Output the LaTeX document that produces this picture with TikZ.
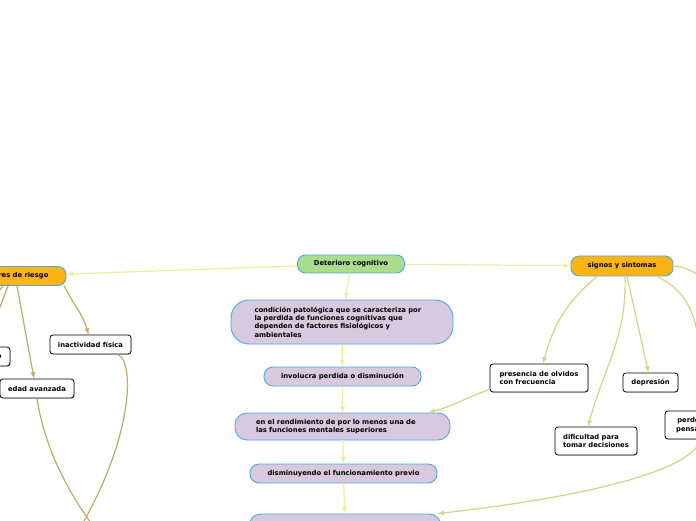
\documentclass[tikz,border=0pt]{standalone}
\usepackage{fontspec}
\setmainfont{DejaVu Sans}
\usetikzlibrary{arrows,shadows}

\definecolor{verde}{HTML}{A9DC8E}
\definecolor{naranja}{HTML}{FDB515}
\definecolor{lila}{HTML}{D8C9DF}
\definecolor{azul}{HTML}{4CA8E4}
\definecolor{amarillo}{HTML}{EDED9F}
\definecolor{oliva}{HTML}{D3D38B}
\definecolor{cafe}{HTML}{C4A86C}

\begin{document}
\begin{tikzpicture}[x=1pt,y=1pt,>=latex,
  font=\fontsize{6.8}{8.3}\selectfont\bfseries,
  tema/.style={draw=azul,line width=0.9pt,rounded corners=8pt,inner xsep=4pt,inner ysep=2pt},
  paso/.style={draw=azul,fill=lila,line width=0.9pt,rounded corners=9pt,inner xsep=4pt,inner ysep=2pt,minimum height=19pt},
  hoja/.style={draw=black,fill=white,line width=0.8pt,rounded corners=3pt,inner xsep=4pt,inner ysep=2pt,minimum height=19pt,
    drop shadow={shadow xshift=0.7pt,shadow yshift=-0.7pt,fill=black!45}},
  flecha/.style={->,line width=1.2pt}]
\useasboundingbox (0,0) rectangle (696,520);
\fill[white] (0,0) rectangle (696,520);
\clip (0,0) rectangle (696,520);

% tema central y ramas
\node[tema,fill=verde,minimum width=107pt,minimum height=18pt] (root) at (351,256) {Deterioro cognitivo};
\node[tema,fill=naranja,minimum width=106pt,minimum height=19pt] (fac) at (13,244) {Factores de riesgo};
\node[tema,fill=naranja,minimum width=102pt,minimum height=20pt] (sig) at (622,254) {signos y sintomas};

% cadena del centro
\node[paso,rounded corners=18pt,minimum width=222pt,minimum height=44pt,text width=175pt,align=left] (cond) at (342,198)
  {condición patológica que se caracteriza por\\la perdida de funciones cognitivas que\\dependen de factores fisiológicos y\\ambientales};
\node[paso,minimum width=157pt] (inv) at (342.5,143.5) {involucra perdida o disminución};
\node[paso,rounded corners=12pt,minimum width=215pt,minimum height=27pt,text width=173pt,align=left] (rend) at (342.5,93.5)
  {en el rendimiento de por lo menos una de\\las funciones mentales superiores};
\node[paso,minimum width=187pt] (dism) at (343.5,46.5) {disminuyendo el funcionamiento previo};
\node[paso,rounded corners=12pt,minimum width=192pt,minimum height=30pt] (last) at (345,-9) {};

% factores
\node[hoja,minimum width=81pt] (inact) at (90.5,175.5) {inactividad física};
\node[hoja,minimum width=74pt] (edad) at (37,131.5) {edad avanzada};
\node[hoja,minimum width=62pt] (tab) at (-21,163.5) {tabaquismo};
\coordinate (fa) at (-45,175);
\coordinate (fb) at (60,-40);
\coordinate (fc) at (112,-30);

% signos
\node[hoja,minimum width=98pt,minimum height=28pt,align=left] (pres) at (539,142) {presencia de olvidos\\con frecuencia};
\node[hoja,minimum width=55pt] (depr) at (650.5,137.5) {depresión};
\node[hoja,minimum width=82pt,minimum height=28pt,align=left] (dif) at (596,79) {dificultad para\\tomar decisiones};
\node[hoja,minimum width=72pt,minimum height=28pt,align=center] (perd) at (701,95) {perdemos el\\pensamiento};
\coordinate (sa) at (730,190);

\draw[flecha,amarillo] (root) -- (fac);
\draw[flecha,amarillo] (root) -- (sig);
\draw[flecha,amarillo] (root) -- (cond);
\draw[flecha,amarillo] (cond) -- (inv);
\draw[flecha,amarillo] (inv) -- (rend);
\draw[flecha,amarillo] (rend) -- (dism);
\draw[flecha,amarillo] (dism) -- (last);

\draw[flecha,cafe] ([xshift=-2pt]fac.south east) to[out=-65,in=105] ([xshift=-2pt]inact.north);
\draw[flecha,cafe] ([xshift=4pt]fac.south) -- ([xshift=-3pt]edad.north);
\draw[flecha,cafe] ([xshift=-5pt]fac.south) -- ([xshift=6pt]tab.north);
\draw[line width=1.2pt,cafe] ([xshift=-10pt]fac.south) -- (fa);
\draw[line width=1.2pt,cafe] ([xshift=-14pt]inact.south east) .. controls (136,160) and (135,70) .. (fb);
\draw[line width=1.2pt,cafe] (edad.south) .. controls (45,70) and (70,20) .. (fc);

\draw[flecha,oliva] ([xshift=-25pt]sig.south) to[out=-140,in=75] ([xshift=4pt]pres.north);
\draw[flecha,oliva] ([xshift=3pt]sig.south) to[out=-88,in=75] ([xshift=-8pt]dif.north);
\draw[flecha,oliva] ([xshift=5pt]sig.south) -- ([xshift=-2pt]depr.north);
\draw[flecha,oliva] ([xshift=35pt]sig.south) to[out=-25,in=92] (perd.north);
\draw[line width=1.2pt,oliva] (sig.east) to[out=-5,in=110] (sa);
\draw[flecha,oliva] ([yshift=3pt]pres.south west) to[out=200,in=15] ([xshift=-22pt]rend.north east);
\draw[flecha,oliva] (perd.south) .. controls (690,45) and (560,20) .. ([xshift=-4pt]last.north east);
\end{tikzpicture}
\end{document}
